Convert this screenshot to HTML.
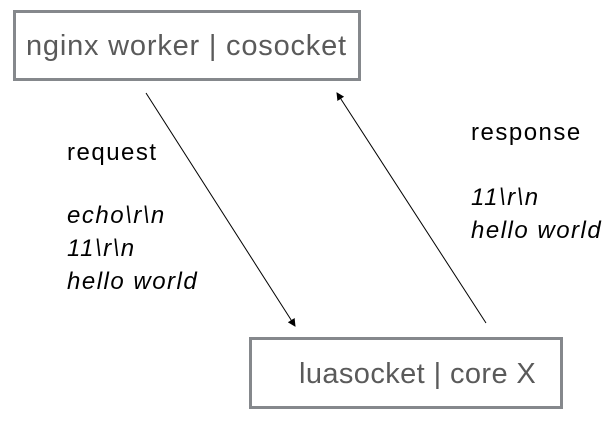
<!DOCTYPE html>
<html><head><style>
body{margin:0;width:616px;height:422px;background:#fff;overflow:hidden;position:relative;font-family:"Liberation Sans",sans-serif}
.box{position:absolute;border:3px solid #85888c;box-sizing:border-box;color:#5a5a5a;font-size:29px;letter-spacing:0.6px;white-space:nowrap}
.t{position:absolute;font-size:24px;letter-spacing:1.5px;color:#000;white-space:nowrap;line-height:33px}
i{font-style:italic}
</style></head><body>
<div class="box" style="left:13px;top:10px;width:348px;height:71px;"><span style="position:absolute;left:10px;top:17px;letter-spacing:0.8px">nginx worker | cosocket</span></div>
<div class="box" style="left:249px;top:337px;width:314px;height:72px;"><span style="position:absolute;left:47px;top:18px;letter-spacing:0.4px">luasocket | core X</span></div>
<div class="t" style="left:67px;top:136px">request</div>
<div class="t" style="left:67px;top:199px"><i>echo\r\n</i><br><i>11\r\n</i><br><i>hello world</i></div>
<div class="t" style="left:471px;top:116px">response</div>
<div class="t" style="left:471px;top:181px"><i>11\r\n</i><br><i>hello world</i></div>
<svg width="616" height="422" style="position:absolute;left:0;top:0">
<defs><marker id="a" markerWidth="8" markerHeight="8" refX="7" refY="4" orient="auto" markerUnits="userSpaceOnUse"><path d="M0,0 L8,4 L0,8z" fill="#000"/></marker></defs>
<line x1="146" y1="93" x2="295" y2="326" stroke="#000" stroke-width="1" marker-end="url(#a)"/>
<line x1="486" y1="323" x2="337" y2="93" stroke="#000" stroke-width="1" marker-end="url(#a)"/>
</svg>
</body></html>
